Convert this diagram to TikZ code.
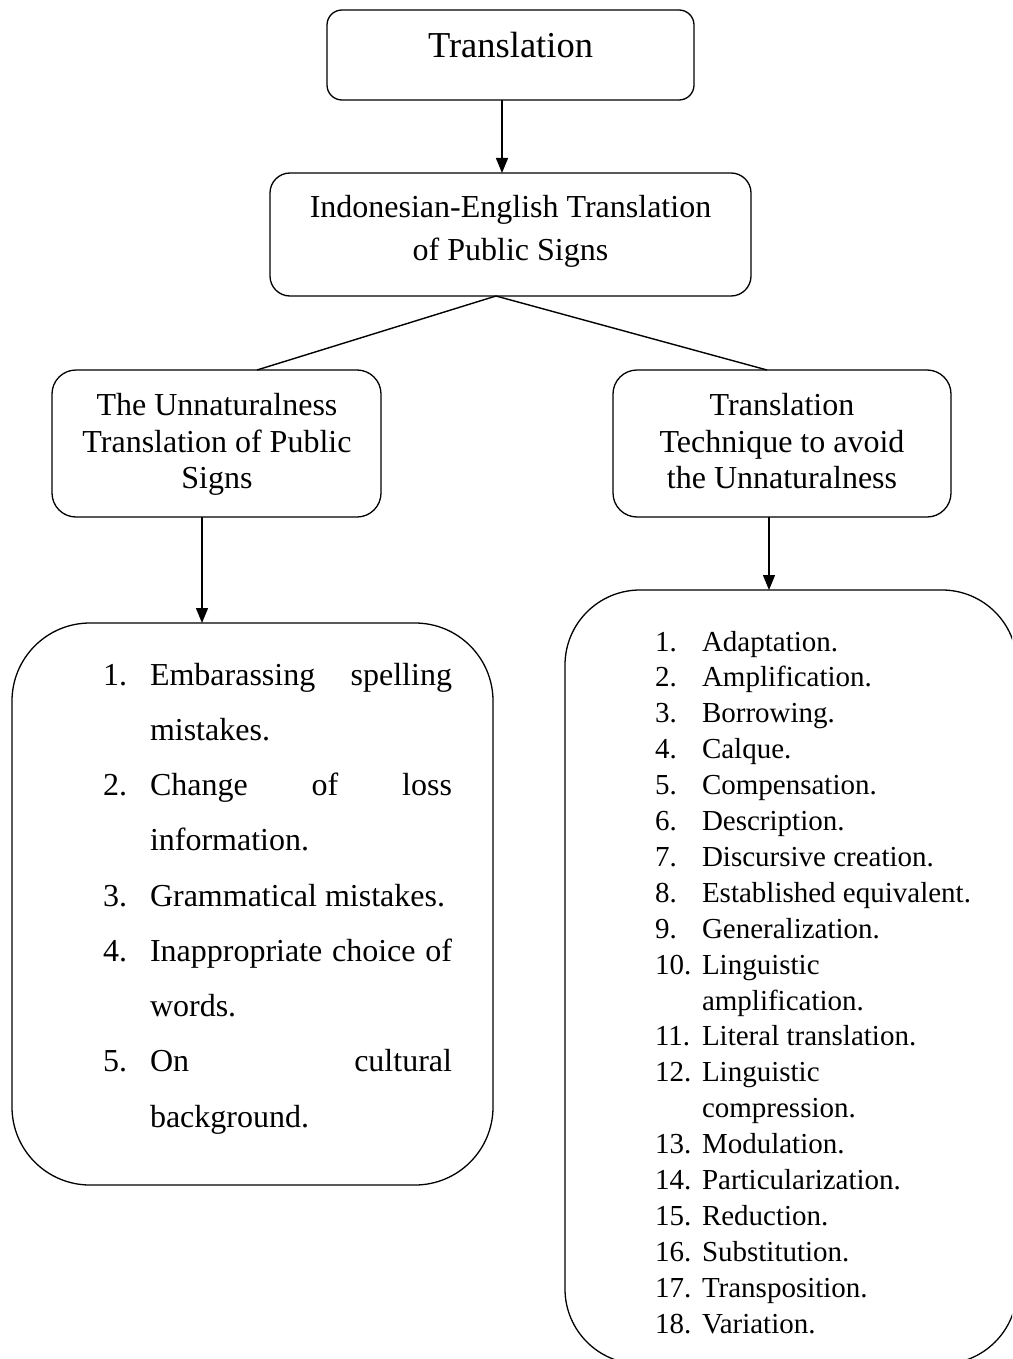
\documentclass[tikz,border=0pt]{standalone}
\usepackage{fontspec}
\setmainfont{Liberation Serif}
\usetikzlibrary{arrows.meta}
\tikzset{
  box/.style={draw, line width=1.3pt, inner sep=0pt, outer sep=0pt},
  conn/.style={line width=1.4pt},
  arr/.style={line width=1.4pt, -{Triangle[length=15pt,width=12pt]}},
  txt/.style={anchor=base, inner sep=0pt, outer sep=0pt},
  lnum/.style={anchor=base west, inner sep=0pt, outer sep=0pt},
  big/.style={font=\fontsize{36.5}{40}\selectfont},
  mid/.style={font=\fontsize{32}{37}\selectfont},
  small/.style={font=\fontsize{29}{34}\selectfont}
}
\begin{document}
\begin{tikzpicture}[x=1pt,y=-1pt]
\useasboundingbox (0,0) rectangle (1012,1359);
\clip (0,0) rectangle (1012,1359);
% boxes
\node[box, rounded corners=15pt, minimum width=367pt, minimum height=90pt] (top) at (510.5,55) {};
\node[box, rounded corners=20pt, minimum width=481pt, minimum height=123pt] (indo) at (510.5,234.5) {};
\node[box, rounded corners=24pt, minimum width=329pt, minimum height=147pt] (left) at (216.5,443.5) {};
\node[box, rounded corners=24pt, minimum width=338pt, minimum height=147pt] (right) at (782,443.5) {};
\node[box, rounded corners=78pt, minimum width=481pt, minimum height=562pt] (leftbig) at (252.5,904) {};
\node[box, rounded corners=75pt, minimum width=452pt, minimum height=774pt] (rightbig) at (791,977) {};
% box texts
\node[txt, big] (t1) at (510.5,58) {Translation};
\node[txt, mid] (t2a) at (510.5,218) {Indonesian-English Translation};
\node[txt, mid] (t2b) at (510.5,260) {of Public Signs};
\node[txt, mid] (t3a) at (217,415) {The Unnaturalness};
\node[txt, mid] (t3b) at (217,452) {Translation of Public};
\node[txt, mid] (t3c) at (217,488) {Signs};
\node[txt, mid] (t4a) at (782,415) {Translation};
\node[txt, mid] (t4b) at (782,452) {Technique to avoid};
\node[txt, mid] (t4c) at (782,488) {the Unnaturalness};
% connectors
\draw[arr] ([xshift=-8.5pt]top.south) -- ([xshift=-8.5pt]indo.north);
\draw[conn] ([xshift=-14.5pt]indo.south) -- ([xshift=40.5pt]left.north);
\draw[conn] ([xshift=-14.5pt]indo.south) -- ([xshift=-15pt]right.north);
\draw[arr] ([xshift=-14.5pt]left.south) -- ([xshift=-14.5pt]left.south |- leftbig.north);
\draw[arr] ([xshift=-13pt]right.south) -- ([xshift=-13pt]right.south |- rightbig.north);
% left list
\begin{scope}[mid]
\node[lnum] (ln1) at (103,685) {1.};
\node[lnum] (la1) at (150,685) {\makebox[302pt][s]{Embarassing spelling}};
\node[lnum] (la2) at (150,740.25) {mistakes.};
\node[lnum] (ln2) at (103,795.5) {2.};
\node[lnum] (lb1) at (150,795.5) {\makebox[302pt][s]{Change of loss}};
\node[lnum] (lb2) at (150,850.75) {information.};
\node[lnum] (ln3) at (103,906) {3.};
\node[lnum] (lc1) at (150,906) {Grammatical mistakes.};
\node[lnum] (ln4) at (103,961.25) {4.};
\node[lnum] (ld1) at (150,961.25) {\makebox[302pt][s]{Inappropriate choice of}};
\node[lnum] (ld2) at (150,1016.5) {words.};
\node[lnum] (ln5) at (103,1071.75) {5.};
\node[lnum] (le1) at (150,1071.75) {\makebox[302pt][s]{On cultural}};
\node[lnum] (le2) at (150,1127) {background.};
\end{scope}
% right list
\begin{scope}[small]
\node[lnum] (rn1) at (655,651) {1.};
\node[lnum] (r1) at (702,651) {Adaptation.};
\node[lnum] (rn2) at (655,686.9) {2.};
\node[lnum] (r2) at (702,686.9) {Amplification.};
\node[lnum] (rn3) at (655,722.8) {3.};
\node[lnum] (r3) at (702,722.8) {Borrowing.};
\node[lnum] (rn4) at (655,758.7) {4.};
\node[lnum] (r4) at (702,758.7) {Calque.};
\node[lnum] (rn5) at (655,794.6) {5.};
\node[lnum] (r5) at (702,794.6) {Compensation.};
\node[lnum] (rn6) at (655,830.5) {6.};
\node[lnum] (r6) at (702,830.5) {Description.};
\node[lnum] (rn7) at (655,866.4) {7.};
\node[lnum] (r7) at (702,866.4) {Discursive creation.};
\node[lnum] (rn8) at (655,902.3) {8.};
\node[lnum] (r8) at (702,902.3) {Established equivalent.};
\node[lnum] (rn9) at (655,938.2) {9.};
\node[lnum] (r9) at (702,938.2) {Generalization.};
\node[lnum] (rn10) at (655,974.1) {10.};
\node[lnum] (r10a) at (702,974.1) {Linguistic};
\node[lnum] (r10b) at (702,1010) {amplification.};
\node[lnum] (rn11) at (655,1045.9) {11.};
\node[lnum] (r11) at (702,1045.9) {Literal translation.};
\node[lnum] (rn12) at (655,1081.8) {12.};
\node[lnum] (r12a) at (702,1081.8) {Linguistic};
\node[lnum] (r12b) at (702,1117.7) {compression.};
\node[lnum] (rn13) at (655,1153.6) {13.};
\node[lnum] (r13) at (702,1153.6) {Modulation.};
\node[lnum] (rn14) at (655,1189.5) {14.};
\node[lnum] (r14) at (702,1189.5) {Particularization.};
\node[lnum] (rn15) at (655,1225.4) {15.};
\node[lnum] (r15) at (702,1225.4) {Reduction.};
\node[lnum] (rn16) at (655,1261.3) {16.};
\node[lnum] (r16) at (702,1261.3) {Substitution.};
\node[lnum] (rn17) at (655,1297.2) {17.};
\node[lnum] (r17) at (702,1297.2) {Transposition.};
\node[lnum] (rn18) at (655,1333.1) {18.};
\node[lnum] (r18) at (702,1333.1) {Variation.};
\end{scope}
\end{tikzpicture}
\end{document}
